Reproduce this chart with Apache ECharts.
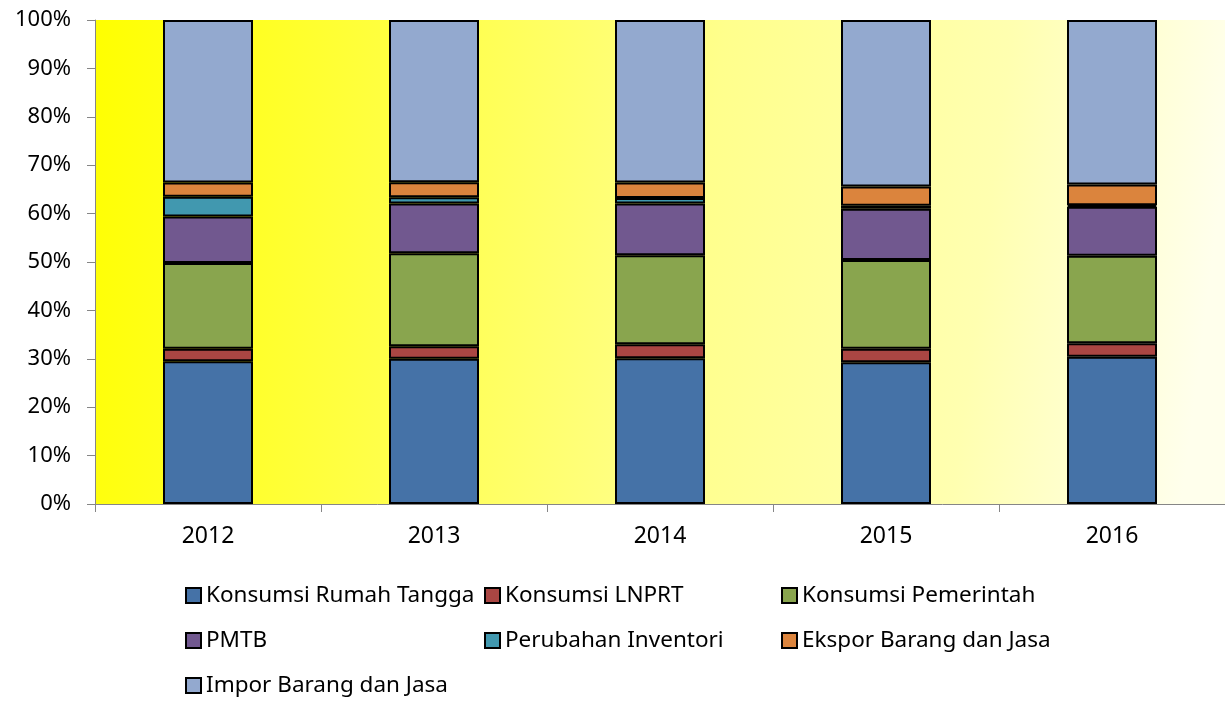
<!DOCTYPE html>
<html lang="en">
<head>
  <meta charset="UTF-8">
  <title>Struktur PDRB</title>
  <script src="https://cdn.jsdelivr.net/npm/echarts@6/dist/echarts.min.js"></script>
</head>
<style>
  body{ margin: 0; background: #fff; }
  #main{ width: 1225px; height: 704px; }
</style>
<body>
  <div id="main"></div>
  <script>
    var years = ['2012', '2013', '2014', '2015', '2016'];

    // persen terhadap total
    var rumahTangga = [29.5, 30.0, 30.1, 29.3, 30.4];
    var lnprt       = [2.6, 2.6, 2.9, 2.8, 2.8];
    var pemerintah  = [17.7, 19.2, 18.4, 18.3, 18.1];
    var pmtb        = [9.6, 10.3, 10.7, 10.6, 10.1];
    var inventori   = [4.1, 1.3, 1.1, 0.6, 0.3];
    var ekspor      = [2.9, 3.1, 3.2, 4.0, 4.3];
    var impor       = [33.6, 33.5, 33.6, 34.4, 34.0];

    var names = ['Konsumsi Rumah Tangga', 'Konsumsi LNPRT', 'Konsumsi Pemerintah',
                 'PMTB', 'Perubahan Inventori', 'Ekspor Barang dan Jasa', 'Impor Barang dan Jasa'];
    var values = [rumahTangga, lnprt, pemerintah, pmtb, inventori, ekspor, impor];
    var colors = ['#4572A7', '#AA4643', '#89A54E', '#71588F', '#4198AF', '#DB843D', '#93A9CF'];

    var font = 'Noto Sans';

    function legendCol(left, data) {
      return {
        orient: 'vertical',
        left: left,
        top: 584,
        padding: 0,
        itemGap: 22,
        itemWidth: 15,
        itemHeight: 15,
        icon: 'rect',
        selectedMode: false,
        textStyle: { fontFamily: font, fontSize: 22.5, color: '#000', padding: [0, 0, 0, 0] },
        data: data
      };
    }

    var myChart = echarts.init(document.getElementById('main'));

    var option = {
      animation: false,
      textStyle: { fontFamily: font },
      grid: {
        left: 95, right: 0, top: 20, bottom: 200,
        show: true,
        borderWidth: 0,
        backgroundColor: new echarts.graphic.LinearGradient(0, 0, 1, 0.3, [
          { offset: 0, color: '#FFFF00' },
          { offset: 0.3, color: '#FFFF4A' },
          { offset: 0.55, color: '#FFFF8C' },
          { offset: 0.8, color: '#FFFFB0' },
          { offset: 1, color: '#FFFFEC' }
        ])
      },
      legend: [
        legendCol(185, [names[0], names[3], names[6]]),
        legendCol(484, [names[1], names[4]]),
        legendCol(781, [names[2], names[5]])
      ],
      xAxis: {
        type: 'category',
        data: years,
        axisLine: { lineStyle: { color: '#868686', width: 1 } },
        axisTick: { show: true, length: 8, lineStyle: { color: '#868686' } },
        axisLabel: { color: '#000', fontSize: 23, margin: 21, fontFamily: font }
      },
      yAxis: {
        type: 'value',
        min: 0, max: 100, interval: 10,
        axisLine: { show: true, lineStyle: { color: '#868686', width: 1 } },
        axisTick: { show: true, length: 8, lineStyle: { color: '#868686' } },
        splitLine: { show: false },
        axisLabel: { color: '#000', fontSize: 22, margin: 24, fontFamily: font, formatter: '{value}%' }
      },
      series: names.map(function (n, i) {
        return {
          name: n,
          type: 'bar',
          stack: 'total',
          barWidth: 90,
          data: values[i],
          itemStyle: { color: colors[i], borderColor: '#000', borderWidth: 2 }
        };
      })
    };

    myChart.setOption(option);
  </script>
</body>
</html>
